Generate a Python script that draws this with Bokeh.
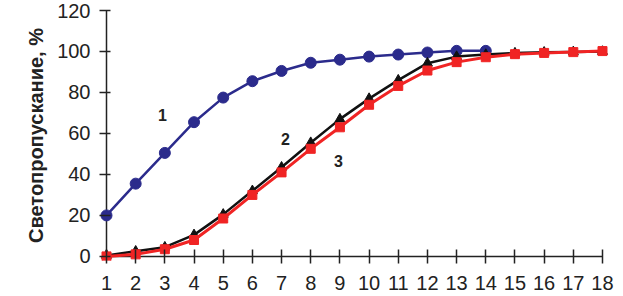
from bokeh.plotting import figure
from bokeh.models import Range1d, FixedTicker, Label
from bokeh.embed import file_html
from bokeh.resources import INLINE

x1 = list(range(1, 15))
y1 = [20, 35.5, 50.5, 65.5, 77.5, 85.5, 90.5, 94.5, 96, 97.5, 98.5, 99.5, 100.3, 100.3]
x2 = list(range(1, 19))
y2 = [0.5, 2.5, 4.5, 10.5, 20.5, 32, 43.5, 55.5, 67, 77, 86, 94.3, 97.5, 98.5, 99.2, 99.6, 99.8, 100]
x3 = list(range(1, 19))
y3 = [0, 1, 3.5, 8, 18.5, 30, 41, 52.5, 63, 74, 83.2, 90.7, 94.8, 97.2, 98.7, 99.3, 99.7, 100.2]
x_ticks = list(range(1, 19))
y_ticks = [0, 20, 40, 60, 80, 100, 120]
curve_labels = ["1", "2", "3"]
curve_label_x = [2.92, 7.13, 8.95]
curve_label_y = [68.8, 57.1, 46.8]
y_title = "Светопропускание, %"

BLUE = "#2b2b8c"
RED = "#f02424"
BLACK = "#111111"
AXIS = "#222222"
FONT = "Liberation Sans"

p = figure(width=623, height=296, output_backend="svg", toolbar_location=None,
           x_range=Range1d(0.76, 18.206), y_range=Range1d(-2.0, 120),
           min_border_left=99, min_border_right=15, min_border_top=10, min_border_bottom=36)
p.outline_line_color = None
p.xgrid.visible = False
p.ygrid.visible = False
p.background_fill_color = "white"
p.border_fill_color = "white"

xa = p.xaxis[0]
ya = p.yaxis[0]
xa.ticker = FixedTicker(ticks=x_ticks)
ya.ticker = FixedTicker(ticks=y_ticks)
ya.axis_label = y_title
for ax in (xa, ya):
    ax.axis_line_color = None
    ax.major_tick_line_color = AXIS
    ax.major_tick_line_width = 1.5
    ax.minor_tick_line_color = None
    ax.major_label_text_font = FONT
    ax.major_label_text_font_size = "20px"
    ax.major_label_text_color = AXIS
xa.major_tick_in = 11
xa.major_tick_out = 3
xa.major_label_standoff = 12
ya.major_tick_in = 11
ya.major_tick_out = 0
ya.major_label_standoff = 9
ya.axis_label_text_font = FONT
ya.axis_label_text_font_size = "20px"
ya.axis_label_text_font_style = "bold"
ya.axis_label_text_color = AXIS
ya.axis_label_standoff = 7

# axis lines through x=1 and y=0
p.line([x_ticks[0], x_ticks[0]], [y_ticks[0], y_ticks[-1]], line_color=AXIS, line_width=1.5)
p.line([x_ticks[0], x_ticks[-1]], [y_ticks[0], y_ticks[0]], line_color=AXIS, line_width=1.5)

p.line(x1, y1, line_color=BLUE, line_width=2.5)
p.scatter(x1, y1, marker="circle", size=11, fill_color=BLUE, line_color=BLUE)
p.line(x2, y2, line_color=BLACK, line_width=2.5)
p.scatter(x2, y2, marker="triangle", size=10, fill_color=BLACK, line_color=BLACK)
p.line(x3, y3, line_color=RED, line_width=3)
p.scatter(x3, y3, marker="square", size=9, fill_color=RED, line_color=RED)

for t, lx, ly in zip(curve_labels, curve_label_x, curve_label_y):
    p.add_layout(Label(x=lx, y=ly, text=t, text_font=FONT, text_font_size="16px",
                       text_font_style="bold", text_color=AXIS,
                       text_align="center", text_baseline="middle"))

open("out.html", "w").write(file_html(p, INLINE))
